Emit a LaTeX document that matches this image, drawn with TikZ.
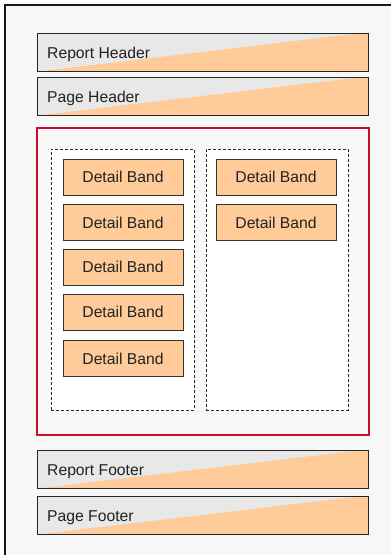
\documentclass[tikz,border=0pt]{standalone}
\usepackage{fontspec}
\setmainfont{Liberation Sans}
\definecolor{pagebg}{HTML}{F7F7F7}
\definecolor{bandgray}{HTML}{E8E8E8}
\definecolor{bandorange}{HTML}{FFCC99}
\definecolor{redframe}{RGB}{200,16,46}
\definecolor{txt}{HTML}{222222}
\tikzset{
  detailband/.style={draw=black!80, fill=bandorange, line width=0.9pt, minimum width=120pt, minimum height=36pt, inner sep=0pt, font=\fontsize{15.7pt}{18pt}\selectfont, text=txt},
  columnbox/.style={draw=black!85, fill=white, dashed, dash pattern=on 3pt off 2pt, line width=0.8pt},
  bandlabel/.style={anchor=base west, inner sep=0pt, font=\fontsize{15.7pt}{18pt}\selectfont, text=txt},
}
\newcommand{\sectionband}[4]{% name, top y, bottom y, label
  \fill[bandgray] (37,#2) rectangle (368,#3);
  \fill[bandorange] (42,#3) -- (368,#3) -- (368,#2) -- (362,#2) -- cycle;
  \node[draw=black!85, line width=1pt, minimum width=331pt, minimum height={#3-#2}, inner sep=0pt, anchor=north west] (#1) at (37,#2) {};
  \node[bandlabel] (#1-label) at (47,{#2+25.5}) {#4};
}
\begin{document}
\begin{tikzpicture}[x=1pt,y=-1pt]
\useasboundingbox (0,0) rectangle (391,555);
\fill[pagebg] (5,5) rectangle (391,555);
\draw[line width=1.6pt, black!90] (5,555) -- (5,5) -- (391,5);
\sectionband{rh}{33}{71}{Report Header}
\sectionband{ph}{77}{115}{Page Header}
\node[draw=redframe, line width=2.2pt, minimum width=332pt, minimum height=307pt, inner sep=0pt, anchor=north west] (detail) at (36,127) {};
\node[columnbox, minimum width=143pt, minimum height=261pt, inner sep=0pt, anchor=north west] (colA) at (51,149) {};
\node[columnbox, minimum width=142pt, minimum height=261pt, inner sep=0pt, anchor=north west] (colB) at (206,149) {};
\node[detailband] (a1) at (123,177) {Detail Band};
\node[detailband] (a2) at (123,222.5) {Detail Band};
\node[detailband] (a3) at (123,267) {Detail Band};
\node[detailband] (a4) at (123,312) {Detail Band};
\node[detailband] (a5) at (123,358.5) {Detail Band};
\node[detailband] (b1) at (276,177) {Detail Band};
\node[detailband] (b2) at (276,222.5) {Detail Band};
\sectionband{rf}{450}{488}{Report Footer}
\sectionband{pf}{496}{534}{Page Footer}
\end{tikzpicture}
\end{document}
